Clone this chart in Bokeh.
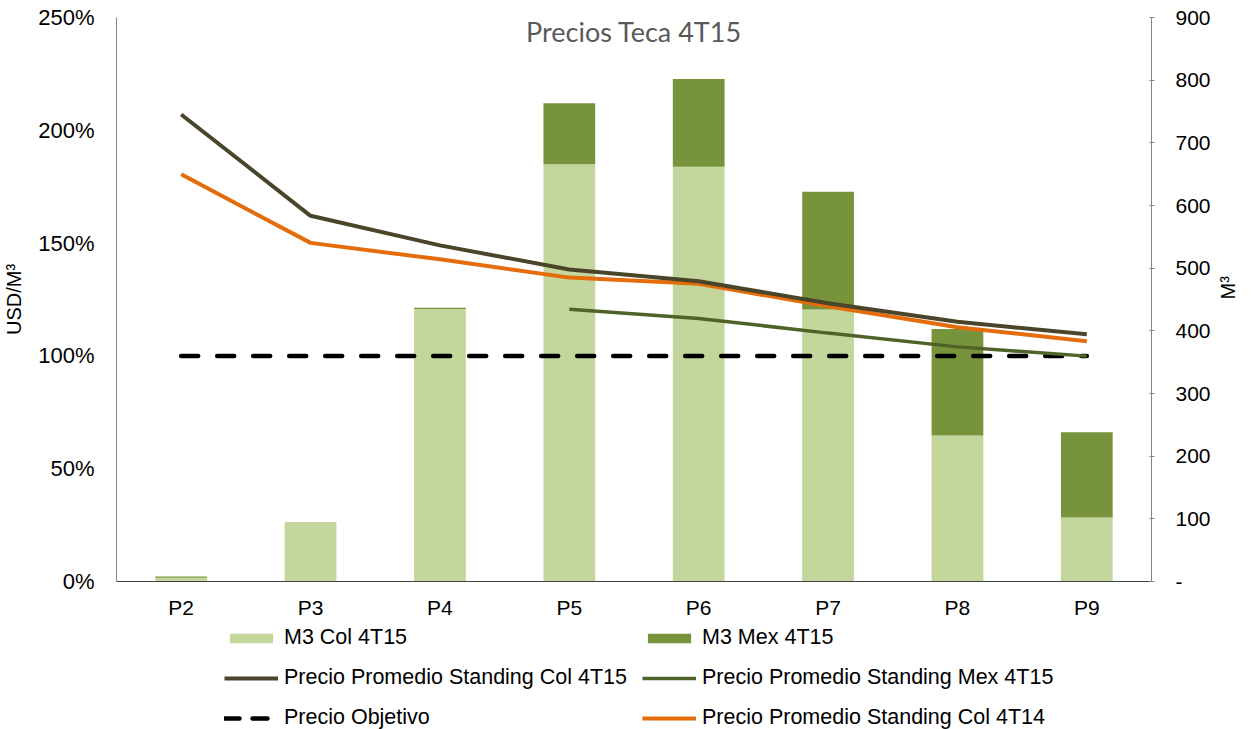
import math
from bokeh.plotting import figure
from bokeh.layouts import column
from bokeh.models import (FactorRange, Range1d, LinearAxis, FixedTicker, PrintfTickFormatter,
                          CustomJSTickFormatter, Legend, LegendItem, Label, ColumnDataSource)
from bokeh.embed import file_html
from bokeh.resources import INLINE
import numpy as np

# ---- data ----
periods = ["P2", "P3", "P4", "P5", "P6", "P7", "P8", "P9"]
m3_col_4t15 = [6, 95, 435, 666, 662, 434, 233, 102]
m3_mex_4t15 = [2, 0, 2, 97, 140, 188, 170, 136]
precio_col_4t15 = [207.0, 162.1, 149.0, 138.3, 133.1, 123.3, 115.1, 109.6]
precio_mex_4t15 = [np.nan, np.nan, np.nan, 120.7, 116.6, 110.1, 104.0, 99.9]
precio_objetivo = [100, 100, 100, 100, 100, 100, 100, 100]
precio_col_4t14 = [180.5, 150.1, 142.8, 134.7, 132.0, 122.0, 112.7, 106.5]
left_ticks = [0, 50, 100, 150, 200, 250]
right_ticks = [0, 100, 200, 300, 400, 500, 600, 700, 800, 900]

FONT = "Liberation Sans"
C_COL, C_MEX = "#C3D69B", "#77933C"
C_L15, C_LMEX, C_L14 = "#4A452A", "#4F6228", "#E46C0A"

MAIN_H = 622
p = figure(width=1252, height=MAIN_H, x_range=FactorRange(*periods, range_padding=0),
           y_range=Range1d(0, 250), output_backend="svg", toolbar_location=None,
           min_border_left=114, min_border_right=98, min_border_top=17,
           min_border_bottom=MAIN_H - 581)
p.extra_y_ranges = {"m3": Range1d(0, 900)}
p.xgrid.visible = False
p.ygrid.visible = False
p.outline_line_color = None
p.background_fill_color = "white"
p.border_fill_color = "white"

src = ColumnDataSource(dict(x=periods, col=m3_col_4t15, mex=m3_mex_4t15,
                            pc15=precio_col_4t15, pm15=precio_mex_4t15,
                            po=precio_objetivo, pc14=precio_col_4t14))

p.vbar_stack(["col", "mex"], x="x", width=0.4, source=src, y_range_name="m3",
             color=[C_COL, C_MEX], line_color=None)

p.line("x", "po", source=src, line_color="black", line_width=4.5,
       line_dash="17 19", line_cap="round")
p.line("x", "pm15", source=src, line_color=C_LMEX, line_width=3.5)
p.line("x", "pc14", source=src, line_color=C_L14, line_width=4)
p.line("x", "pc15", source=src, line_color=C_L15, line_width=4)

# left axis
ya = p.yaxis[0]
ya.ticker = FixedTicker(ticks=left_ticks)
ya.formatter = PrintfTickFormatter(format="%d%%")
ya.axis_line_color = "#868686"
ya.major_tick_line_color = None
ya.minor_tick_line_color = None
ya.major_label_text_font = FONT
ya.major_label_text_font_size = "22px"
ya.major_label_text_color = "#000000"
ya.major_label_standoff = 16
ya.axis_label = "USD/M³"
ya.axis_label_text_font = FONT
ya.axis_label_text_font_size = "20px"
ya.axis_label_text_font_style = "normal"
ya.axis_label_text_color = "#000000"
ya.axis_label_standoff = 10

# right axis
ra = LinearAxis(y_range_name="m3", ticker=FixedTicker(ticks=right_ticks),
                formatter=CustomJSTickFormatter(code="return tick == 0 ? '-' : tick.toString();"))
ra.axis_line_color = "#868686"
ra.major_tick_line_color = "#868686"
ra.major_tick_in = 2
ra.major_tick_out = 3
ra.minor_tick_line_color = None
ra.major_label_text_font = FONT
ra.major_label_text_font_size = "21px"
ra.major_label_text_color = "#000000"
ra.major_label_standoff = 21
ra.axis_label = "M³"
ra.axis_label_text_font = FONT
ra.axis_label_text_font_size = "20px"
ra.axis_label_text_font_style = "normal"
ra.axis_label_text_color = "#000000"
ra.axis_label_standoff = 14
ra.axis_label_orientation = math.pi / 2
p.add_layout(ra, "right")

# x axis
xa = p.xaxis[0]
xa.axis_line_color = "#404040"
xa.major_tick_line_color = None
xa.minor_tick_line_color = None
xa.major_label_text_font = FONT
xa.major_label_text_font_size = "21px"
xa.major_label_text_color = "#000000"
xa.major_label_standoff = 8

# title inside plot area
p.add_layout(Label(x=4, y=244, text="Precios Teca 4T15", text_align="center",
                   text_baseline="middle", text_font="Lato", text_font_size="27px",
                   text_color="#595959"))

# ---- legend strip (separate figure below, same styles; glyph stand-ins lie outside its ranges) ----
LEG_H = 729 - MAIN_H
q = figure(width=1252, height=LEG_H, x_range=Range1d(0, 1), y_range=Range1d(0, 1),
           output_backend="svg", toolbar_location=None, x_axis_type=None, y_axis_type=None,
           min_border=0)
q.xgrid.visible = False
q.ygrid.visible = False
q.outline_line_color = None
q.background_fill_color = "white"
q.border_fill_color = "white"
off_x, off_y = [-10, -9], [-10, -10]
g_col = q.vbar(x=[-10], top=[-10], width=0.4, color=C_COL, line_color=None)
g_mex = q.vbar(x=[-10], top=[-10], width=0.4, color=C_MEX, line_color=None)
g_l15 = q.line(x=off_x, y=off_y, line_color=C_L15, line_width=4)
g_lmex = q.line(x=off_x, y=off_y, line_color=C_LMEX, line_width=3.5)
g_obj = q.line(x=off_x, y=off_y, line_color="black", line_width=4.5, line_dash="15 13",
               line_cap="round")
g_l14 = q.line(x=off_x, y=off_y, line_color=C_L14, line_width=4)

legend = Legend(items=[
    LegendItem(label="M3 Col 4T15", renderers=[g_col]),
    LegendItem(label="Precio Promedio Standing Col 4T15", renderers=[g_l15]),
    LegendItem(label="Precio Objetivo", renderers=[g_obj]),
    LegendItem(label="M3 Mex 4T15", renderers=[g_mex]),
    LegendItem(label="Precio Promedio Standing Mex 4T15", renderers=[g_lmex]),
    LegendItem(label="Precio Promedio Standing Col 4T14", renderers=[g_l14]),
], location=(108, -1), orientation="vertical", ncols=2,
    label_text_font=FONT, label_text_font_size="21.5px", label_text_color="#000000",
    glyph_width=54, glyph_height=12, label_height=23, label_standoff=6, spacing=15,
    padding=0, margin=0, border_line_color=None, background_fill_alpha=0)
q.add_layout(legend, "center")

layout = column(p, q, spacing=0)
open("out.html", "w").write(file_html(layout, INLINE))
